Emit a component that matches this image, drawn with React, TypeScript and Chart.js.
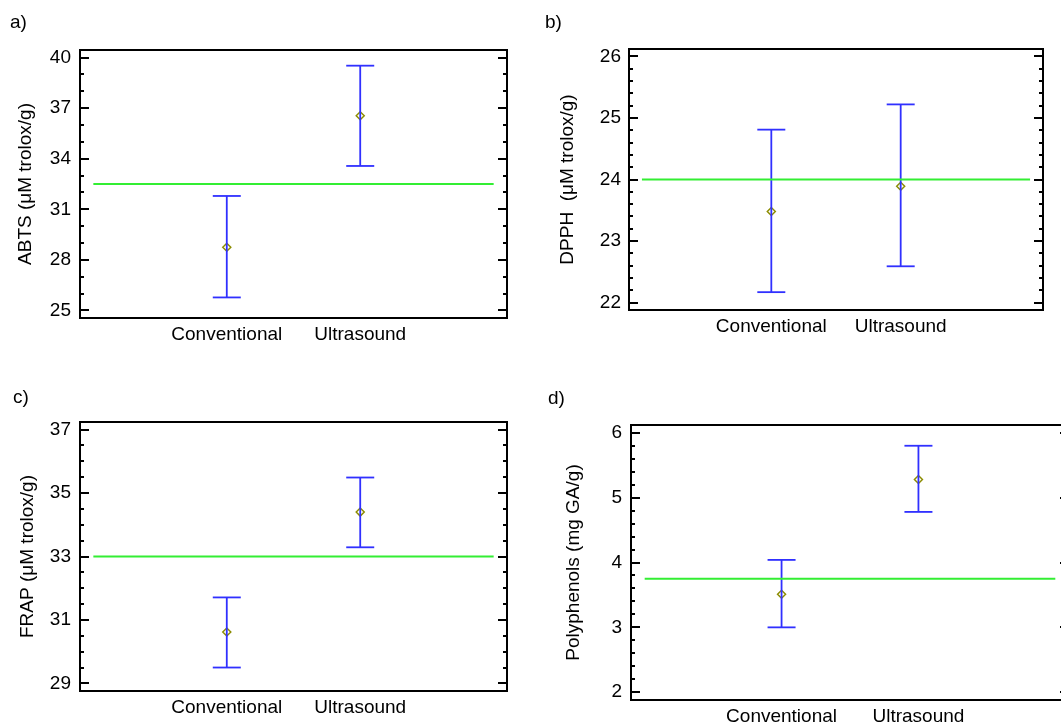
import React, { useEffect, useRef } from "react";
import { Chart, registerables } from "chart.js";

Chart.register(...registerables);

// ---------- data ----------
const categories = ["Conventional", "Ultrasound"];
const categoryPositions = [1, 2];
const grandMeanSpan = [0, 3];

// a) ABTS
const abtsMeans = [28.75, 36.55];
const abtsLower = [25.77, 33.57];
const abtsUpper = [31.79, 39.52];
const abtsGrandMean = 32.5;
const abtsTicks = [25, 28, 31, 34, 37, 40];
const abtsMinorStep = 1;

// b) DPPH
const dpphMeans = [23.48, 23.89];
const dpphLower = [22.17, 22.59];
const dpphUpper = [24.81, 25.22];
const dpphGrandMean = 24.0;
const dpphTicks = [22, 23, 24, 25, 26];
const dpphMinorStep = 0.2;

// c) FRAP
const frapMeans = [30.62, 34.4];
const frapLower = [29.5, 33.29];
const frapUpper = [31.71, 35.49];
const frapGrandMean = 33.0;
const frapTicks = [29, 31, 33, 35, 37];
const frapMinorStep = 0.5;

// d) Polyphenols
const polyMeans = [3.51, 5.28];
const polyLower = [3.0, 4.78];
const polyUpper = [4.04, 5.8];
const polyGrandMean = 3.75;
const polyTicks = [2, 3, 4, 5, 6];
const polyMinorStep = 0.2;

// ---------- styling / layout ----------
const FONT_FAMILY = "'Liberation Sans', Arial, Helvetica, sans-serif";
const FONT_SIZE = 19;
const BLUE = "#3030ff";
const GREEN = "#33ee33";
const OLIVE = "#8c8c00";

type Layout = {
  canvas: { left: number; top: number; width: number; height: number };
  area: { left: number; top: number; right: number; bottom: number };
  titlePad: number;
  tickPad: number;
  label: { left: number; top: number };
};

const panels = [
  {
    key: "a",
    label: "a)",
    title: "ABTS (\u03bcM trolox/g)",
    means: abtsMeans,
    lower: abtsLower,
    upper: abtsUpper,
    grand: abtsGrandMean,
    ticks: abtsTicks,
    minor: abtsMinorStep,
    layout: {
      canvas: { left: 0, top: 0, width: 530, height: 362 },
      area: { left: 80, top: 50, right: 507, bottom: 318 },
      titlePad: 14,
      tickPad: 9,
      label: { left: 10, top: 12 },
    } as Layout,
  },
  {
    key: "b",
    label: "b)",
    title: "DPPH  (\u03bcM trolox/g)",
    means: dpphMeans,
    lower: dpphLower,
    upper: dpphUpper,
    grand: dpphGrandMean,
    ticks: dpphTicks,
    minor: dpphMinorStep,
    layout: {
      canvas: { left: 530, top: 0, width: 531, height: 362 },
      area: { left: 629, top: 49, right: 1043, bottom: 310 },
      titlePad: 26,
      tickPad: 8,
      label: { left: 545, top: 12 },
    } as Layout,
  },
  {
    key: "c",
    label: "c)",
    title: "FRAP (\u03bcM trolox/g)",
    means: frapMeans,
    lower: frapLower,
    upper: frapUpper,
    grand: frapGrandMean,
    ticks: frapTicks,
    minor: frapMinorStep,
    layout: {
      canvas: { left: 0, top: 362, width: 530, height: 361 },
      area: { left: 80, top: 422, right: 507, bottom: 691 },
      titlePad: 16,
      tickPad: 9,
      label: { left: 13, top: 387 },
    } as Layout,
  },
  {
    key: "d",
    label: "d)",
    title: "Polyphenols (mg GA/g)",
    means: polyMeans,
    lower: polyLower,
    upper: polyUpper,
    grand: polyGrandMean,
    ticks: polyTicks,
    minor: polyMinorStep,
    layout: {
      canvas: { left: 530, top: 362, width: 560, height: 361 },
      area: { left: 631, top: 425, right: 1069, bottom: 700 },
      titlePad: 32,
      tickPad: 9,
      label: { left: 548, top: 388 },
    } as Layout,
  },
];

type Panel = (typeof panels)[number];

const framePlugin = {
  id: "frame",
  afterDraw(chart: any, _args: any, opts: any) {
    const { ctx, chartArea } = chart;
    const { left, right, top, bottom } = chartArea;
    const y = chart.scales.y;
    ctx.save();
    ctx.strokeStyle = "#000";
    ctx.lineWidth = 2;
    ctx.strokeRect(left, top, right - left, bottom - top);
    const ticks: number[] = opts.ticks;
    const step: number = opts.minorStep;
    const lo = ticks[0];
    const hi = ticks[ticks.length - 1];
    const n = Math.round((hi - lo) / step);
    for (let i = 0; i <= n; i++) {
      const v = lo + i * step;
      const major = ticks.some((t) => Math.abs(t - v) < 1e-6);
      const len = major ? 9 : 4;
      const py = Math.round(y.getPixelForValue(v));
      ctx.beginPath();
      ctx.moveTo(left, py);
      ctx.lineTo(left + len, py);
      ctx.moveTo(right, py);
      ctx.lineTo(right - len, py);
      ctx.stroke();
    }
    ctx.restore();
  },
};

function PanelChart({ p }: { p: Panel }) {
  const ref = useRef<HTMLCanvasElement | null>(null);
  useEffect(() => {
    if (!ref.current) return;
    const L = p.layout;
    const range = p.ticks[p.ticks.length - 1] - p.ticks[0];
    const yMin = p.ticks[0] - range * 0.03;
    const yMax = p.ticks[p.ticks.length - 1] + range * 0.03;
    const font = { family: FONT_FAMILY, size: FONT_SIZE };
    const yWidth = L.area.left - L.canvas.left;
    const xHeight = L.canvas.top + L.canvas.height - L.area.bottom;
    const padTop = L.area.top - L.canvas.top;
    const padRight = L.canvas.left + L.canvas.width - L.area.right;

    const datasets: any[] = [
      {
        data: grandMeanSpan.map((x) => ({ x, y: p.grand })),
        showLine: true,
        borderColor: GREEN,
        borderWidth: 2,
        pointRadius: 0,
      },
      ...categoryPositions.map((pos, i) => ({
        data: [
          { x: pos, y: p.lower[i] },
          { x: pos, y: p.upper[i] },
        ],
        showLine: true,
        borderColor: BLUE,
        borderWidth: 1.8,
        pointStyle: "line",
        pointRadius: 14,
        pointBorderColor: BLUE,
        pointBackgroundColor: BLUE,
        pointBorderWidth: 1.8,
      })),
      {
        data: categoryPositions.map((pos, i) => ({ x: pos, y: p.means[i] })),
        showLine: false,
        pointStyle: "rectRot",
        pointRadius: 4,
        pointBorderColor: OLIVE,
        pointBackgroundColor: "#ffffff",
        pointBorderWidth: 1.5,
      },
    ];

    const chart = new Chart(ref.current, {
      type: "scatter",
      data: { datasets },
      options: {
        animation: false,
        responsive: false,
        events: [],
        layout: { padding: { left: 0, top: padTop, right: padRight, bottom: 0 } },
        plugins: {
          legend: { display: false },
          tooltip: { enabled: false },
          frame: { ticks: p.ticks, minorStep: p.minor },
        } as any,
        scales: {
          x: {
            type: "linear",
            min: -0.1,
            max: 3.1,
            grid: { display: false, drawTicks: false },
            border: { display: false },
            afterBuildTicks: (s: any) => {
              s.ticks = categoryPositions.map((v) => ({ value: v }));
            },
            afterFit: (s: any) => {
              s.height = xHeight;
            },
            ticks: {
              autoSkip: false,
              maxRotation: 0,
              padding: 5,
              color: "#000",
              font,
              callback: (_v: any, i: number) => categories[i],
            },
          },
          y: {
            type: "linear",
            min: yMin,
            max: yMax,
            grid: { display: false, drawTicks: false },
            border: { display: false },
            afterBuildTicks: (s: any) => {
              s.ticks = p.ticks.map((v) => ({ value: v }));
            },
            afterFit: (s: any) => {
              s.width = yWidth;
            },
            ticks: { autoSkip: false, padding: L.tickPad, color: "#000", font },
            title: {
              display: true,
              text: p.title,
              color: "#000",
              font,
              padding: { top: L.titlePad, bottom: 0 },
            },
          },
        },
      } as any,
      plugins: [framePlugin as any],
    });
    return () => chart.destroy();
  }, [p]);

  const L = p.layout;
  return (
    <>
      <canvas
        ref={ref}
        width={L.canvas.width}
        height={L.canvas.height}
        style={{
          position: "absolute",
          left: L.canvas.left,
          top: L.canvas.top,
          width: L.canvas.width,
          height: L.canvas.height,
          display: "block",
        }}
      />
      <div
        style={{
          position: "absolute",
          left: L.label.left,
          top: L.label.top,
          fontFamily: FONT_FAMILY,
          fontSize: FONT_SIZE,
          lineHeight: `${FONT_SIZE}px`,
          color: "#000",
          whiteSpace: "nowrap",
        }}
      >
        {p.label}
      </div>
    </>
  );
}

export default function App() {
  return (
    <div
      style={{
        position: "fixed",
        left: 0,
        top: 0,
        width: 1061,
        height: 723,
        overflow: "hidden",
        background: "#fff",
      }}
    >
      {panels.map((p) => (
        <PanelChart key={p.key} p={p} />
      ))}
    </div>
  );
}
